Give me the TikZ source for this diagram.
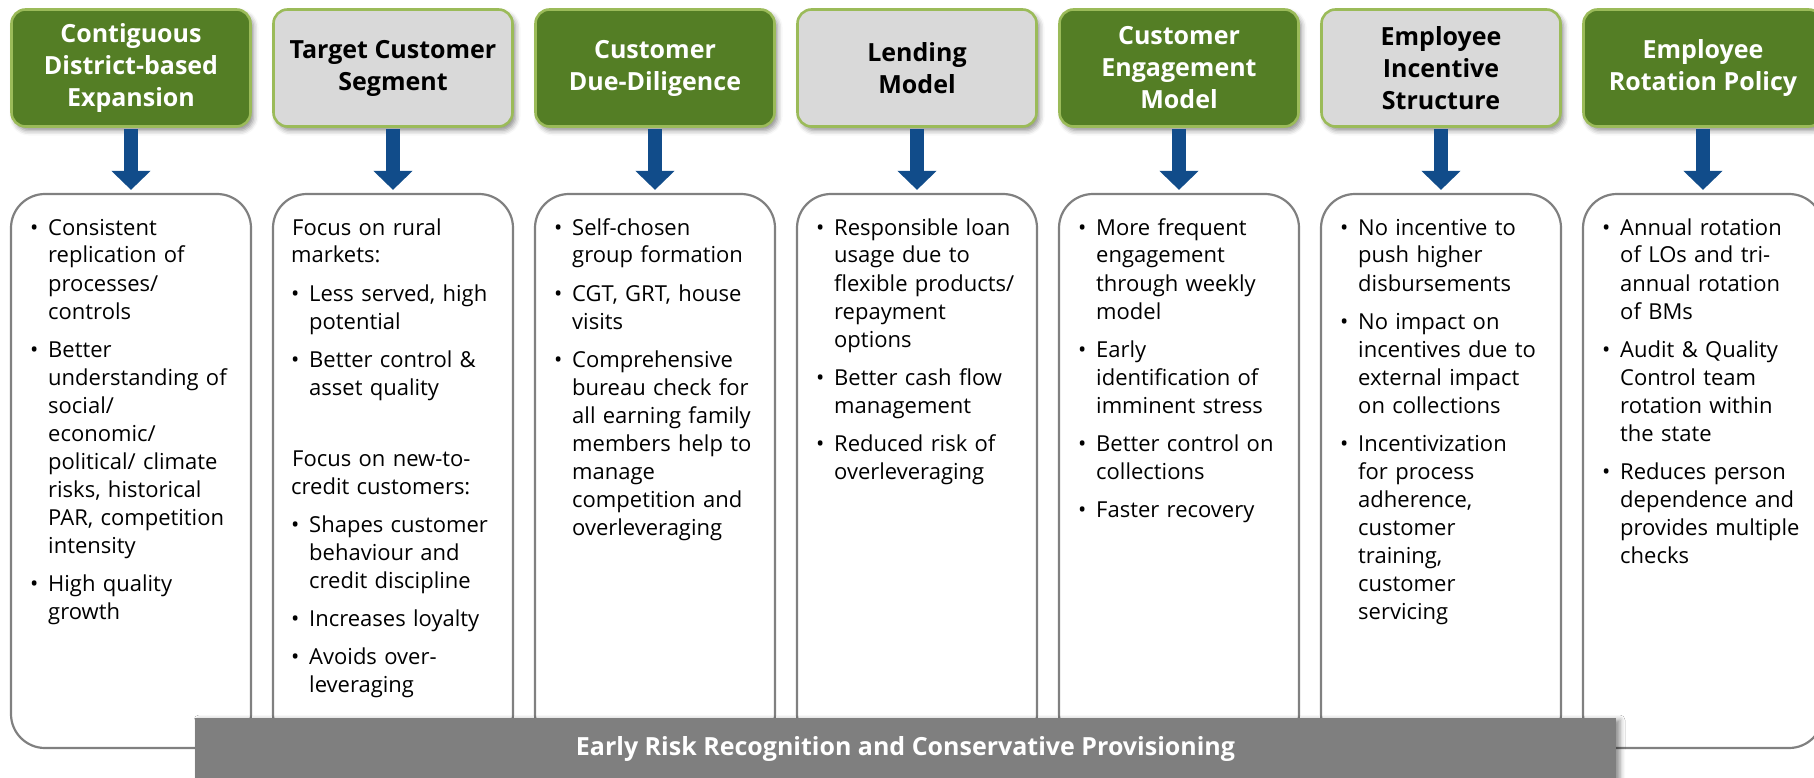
\documentclass[tikz,border=0pt]{standalone}
\usepackage{fontspec}
\setmainfont{Open Sans}
\usetikzlibrary{arrows.meta, shadows.blur}

\definecolor{hdrgreen}{RGB}{84,126,37}
\definecolor{hdredge}{RGB}{155,187,89}
\definecolor{hdrgray}{RGB}{217,217,217}
\definecolor{boxedge}{RGB}{128,128,128}
\definecolor{arrowblue}{RGB}{17,76,138}
\definecolor{bargray}{RGB}{127,127,127}

\newcommand{\bitem}[1]{\par\hangindent=18pt\hangafter=1\noindent\makebox[18pt][l]{\textbullet}#1\par}
\newcommand{\plain}[1]{\par\noindent\hspace*{1pt}#1\par}

\begin{document}
\begin{tikzpicture}[x=1pt, y=-1pt,
	hdr/.style={rectangle, rounded corners=14pt, draw=hdredge, line width=2.6pt, minimum width=239pt, minimum height=117pt, align=center, font=\fontsize{25}{32}\selectfont\bfseries, blur shadow={shadow xshift=3pt, shadow yshift=-4pt, shadow blur radius=5pt, shadow opacity=45}},
	hdrdark/.style={hdr, fill=hdrgreen, text=white},
	hdrlight/.style={hdr, fill=hdrgray, text=black},
	body/.style={rectangle, rounded corners=34pt, draw=boxedge, line width=2.2pt, fill=white, minimum width=240pt, minimum height=554pt},
	bodytext/.style={anchor=base west, inner sep=0pt, text width=215pt, align=left, font=\fontsize{22}{28}\selectfont, execute at begin node={\setlength{\parskip}{10pt}}},
	downarrow/.style={arrowblue, line width=14pt, -{Triangle[width=38pt, length=19pt]}, shorten >=3pt},
	riskbar/.style={rectangle, fill=bargray, minimum width=1421pt, minimum height=62pt, text=white, font=\fontsize{25}{30}\selectfont\bfseries, blur shadow={shadow xshift=4pt, shadow yshift=-2pt, shadow blur radius=5pt, shadow opacity=45}}
	]
	\path[use as bounding box] (0,0) rectangle (1814,778);
	\clip (0,0) rectangle (1814,778);
	
	% 下方内容框
	\node[body] (b1) at (131,471) {};
	\node[body] (b2) at (393,471) {};
	\node[body] (b3) at (655,471) {};
	\node[body] (b4) at (917,471) {};
	\node[body] (b5) at (1179,471) {};
	\node[body] (b6) at (1441,471) {};
	\node[body] (b7) at (1703,471) {};
	
	% 顶部标题
	\node[hdrdark] (h1) at (131,68) {Contiguous\\District-based\\Expansion};
	\node[hdrlight] (h2) at (393,68) {Target Customer\\Segment};
	\node[hdrdark] (h3) at (655,68) {Customer\\Due-Diligence};
	\node[hdrlight] (h4) at (917,68) {Lending\\Model};
	\node[hdrdark] (h5) at (1179,68) {Customer\\Engagement\\Model};
	\node[hdrlight] (h6) at (1441,68) {Employee\\Incentive\\Structure};
	\node[hdrdark] (h7) at (1703,68) {Employee\\Rotation Policy};
	
	% 箭头
	\draw[downarrow] ([yshift=-1.3pt]h1.south) -- (b1.north);
	\draw[downarrow] ([yshift=-1.3pt]h2.south) -- (b2.north);
	\draw[downarrow] ([yshift=-1.3pt]h3.south) -- (b3.north);
	\draw[downarrow] ([yshift=-1.3pt]h4.south) -- (b4.north);
	\draw[downarrow] ([yshift=-1.3pt]h5.south) -- (b5.north);
	\draw[downarrow] ([yshift=-1.3pt]h6.south) -- (b6.north);
	\draw[downarrow] ([yshift=-1.3pt]h7.south) -- (b7.north);
	
	% 各列要点
	\node[bodytext] (t1) at (30,197) {%
		\bitem{Consistent\newline replication of\newline processes/\newline controls}
		\bitem{Better\newline understanding of\newline social/\newline economic/\newline political/ climate\newline risks, historical\newline PAR, competition\newline intensity}
		\bitem{High quality\newline growth}};
	\node[bodytext] (t2) at (291,197) {%
		\plain{Focus on rural\newline markets:}
		\bitem{Less served, high\newline potential}
		\bitem{Better control \&\newline asset quality}
		\vspace{33pt}
		\plain{Focus on new-to-\newline credit customers:}
		\bitem{Shapes customer\newline behaviour and\newline credit discipline}
		\bitem{Increases loyalty}
		\bitem{Avoids over-\newline leveraging}};
	\node[bodytext] (t3) at (554,197) {%
		\bitem{Self-chosen\newline group formation}
		\bitem{CGT, GRT, house\newline visits}
		\bitem{Comprehensive\newline bureau check for\newline all earning family\newline members help to\newline manage\newline competition and\newline overleveraging}};
	\node[bodytext] (t4) at (816,197) {%
		\bitem{Responsible loan\newline usage due to\newline flexible products/\newline repayment\newline options}
		\bitem{Better cash flow\newline management}
		\bitem{Reduced risk of\newline overleveraging}};
	\node[bodytext] (t5) at (1078,197) {%
		\bitem{More frequent\newline engagement\newline through weekly\newline model}
		\bitem{Early\newline identification of\newline imminent stress}
		\bitem{Better control on\newline collections}
		\bitem{Faster recovery}};
	\node[bodytext] (t6) at (1340,197) {%
		\bitem{No incentive to\newline push higher\newline disbursements}
		\bitem{No impact on\newline incentives due to\newline external impact\newline on collections}
		\bitem{Incentivization\newline for process\newline adherence,\newline customer\newline training,\newline customer\newline servicing}};
	\node[bodytext] (t7) at (1602,197) {%
		\bitem{Annual rotation\newline of LOs and tri-\newline annual rotation\newline of BMs}
		\bitem{Audit \& Quality\newline Control team\newline rotation within\newline the state}
		\bitem{Reduces person\newline dependence and\newline provides multiple\newline checks}};
	
	% 底部横条
	\node[riskbar] (risk) at (905.5,749) {Early Risk Recognition and Conservative Provisioning};
\end{tikzpicture}
\end{document}
